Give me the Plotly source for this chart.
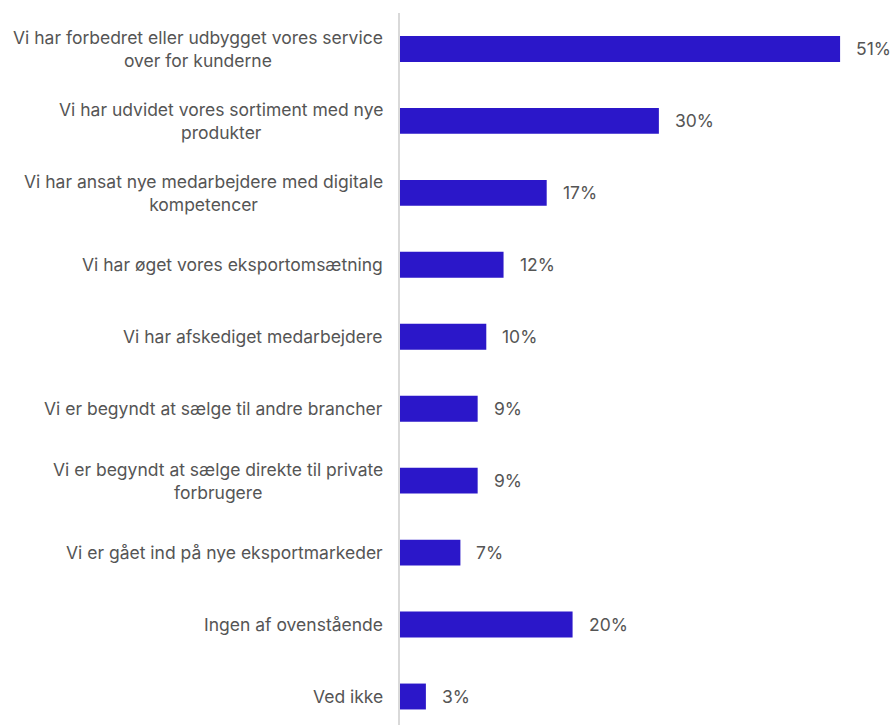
import plotly.graph_objects as go

categories = [
    "Vi har forbedret eller udbygget vores service<br>over for kunderne",
    "Vi har udvidet vores sortiment med nye<br>produkter",
    "Vi har ansat nye medarbejdere med digitale<br>kompetencer",
    "Vi har øget vores eksportomsætning",
    "Vi har afskediget medarbejdere",
    "Vi er begyndt at sælge til andre brancher",
    "Vi er begyndt at sælge direkte til private<br>forbrugere",
    "Vi er gået ind på nye eksportmarkeder",
    "Ingen af ovenstående",
    "Ved ikke",
]
values = [51, 30, 17, 12, 10, 9, 9, 7, 20, 3]
value_labels = [f"{v}%" for v in values]

BAR_COLOR = "#2B17C9"
TEXT_COLOR = "#555555"
FONT = "Inter"
FONT_SIZE = 17.5

positions = list(range(len(categories)))

fig = go.Figure(
    go.Bar(
        x=values,
        y=positions,
        orientation="h",
        width=0.36,
        marker=dict(color=BAR_COLOR, line=dict(width=0)),
        hoverinfo="skip",
    )
)

# Category labels, right-aligned to the axis with centred line wrapping
for pos, label in zip(positions, categories):
    fig.add_annotation(
        x=0, y=pos, xref="x", yref="y",
        text=label, showarrow=False,
        xanchor="right", yanchor="middle", align="center",
        xshift=-15,
        font=dict(family=FONT, size=FONT_SIZE, color=TEXT_COLOR),
    )

# Value labels beside each bar
for pos, v, txt in zip(positions, values, value_labels):
    fig.add_annotation(
        x=v, y=pos, xref="x", yref="y",
        text=txt, showarrow=False,
        xanchor="left", yanchor="middle",
        xshift=14,
        font=dict(family=FONT, size=FONT_SIZE, color=TEXT_COLOR),
    )

fig.update_layout(
    width=891, height=725,
    margin=dict(l=400, r=0, t=13, b=0),
    paper_bgcolor="white", plot_bgcolor="white",
    showlegend=False,
    font=dict(family=FONT, size=FONT_SIZE, color=TEXT_COLOR),
    xaxis=dict(range=[0, 56.9], visible=False, fixedrange=True),
    yaxis=dict(
        range=[9.396, -0.5],
        showticklabels=False, ticks="", showgrid=False, zeroline=False,
        showline=True, linecolor="#d9d9d9", linewidth=2,
        fixedrange=True,
    ),
)

fig.write_html("out.html", config={"displayModeBar": False})
